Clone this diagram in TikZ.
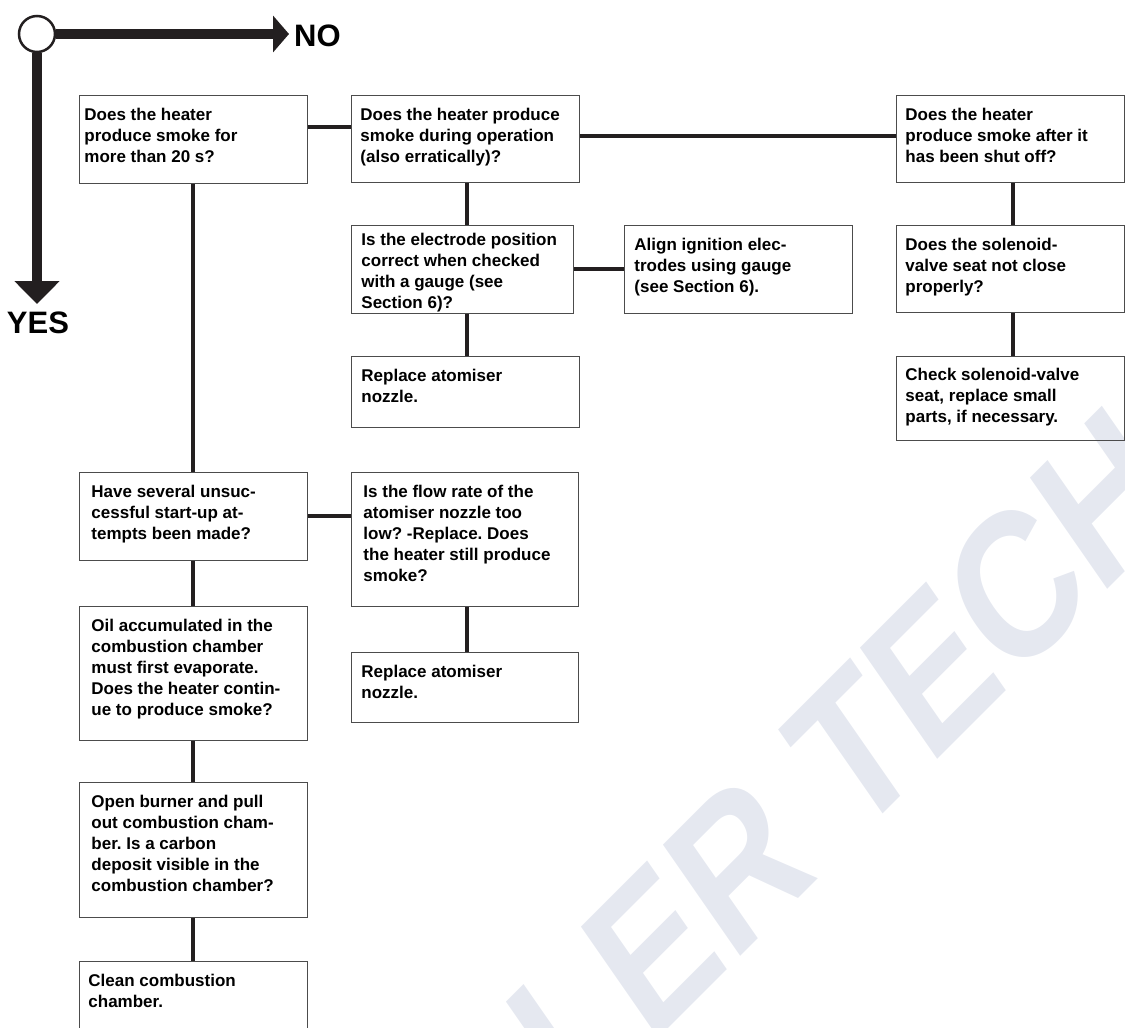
\documentclass[tikz,border=0pt]{standalone}
\usepackage{fontspec}
\setmainfont{Liberation Sans}
\usetikzlibrary{arrows.meta}
\definecolor{ink}{RGB}{35,31,32}
\definecolor{wmblue}{RGB}{229,232,240}
\frenchspacing
% width, height, left pad, top pad, text
\newcommand{\flowtext}[5]{\parbox[c][#2pt][t]{#1pt}{\vskip#4pt\leftskip=#3pt\relax\rightskip=0pt plus 1fil\relax\strut#5}}
\begin{document}
\begin{tikzpicture}[x=1pt,y=-1pt,
  qbox/.style={draw=black!70, line width=.9pt, inner sep=0pt, anchor=north west,
    font=\fontsize{17}{21}\selectfont\bfseries},
  link/.style={draw=ink, line width=4pt},
  bigarrow/.style={draw=ink, line width=10pt},
  bigtext/.style={font=\fontsize{31}{31}\selectfont\bfseries, inner sep=0pt},
  wmark/.style={text=wmblue, font=\fontsize{173}{173}\selectfont\bfseries, inner sep=0pt,
    rotate=45, xslant=.18, yscale=1.12}]
  \useasboundingbox (0,0) rectangle (1125,1028);
  \clip (0,0) rectangle (1125,1028);
  \node[wmark, anchor=base west] (wm) at (501,1196) {LLER TECH};
  % yes / no key
  \node[circle, draw=ink, line width=2.5pt, fill=white, minimum size=36pt, inner sep=0pt] (start) at (37,34) {};
  \coordinate (notip) at (289,34);
  \coordinate (yestip) at (37,304);
  \draw[bigarrow, -{Triangle[length=16pt,width=36pt]}] (start.east) -- (notip);
  \draw[bigarrow, -{Triangle[length=23pt,width=44pt]}] (start.south) -- (yestip);
  \node[bigtext, anchor=west] (no) at (294,36) {NO};
  \node[bigtext, anchor=north] (yes) at (38,312) {YES};
  % boxes
  \node[qbox] (smoke) at (79,95) {\flowtext{228}{88}{5}{10}{Does the heater\\produce smoke for\\more than 20 s?}};
  \node[qbox] (during) at (351,95) {\flowtext{228}{87}{9}{10}{Does the heater produce\\smoke during operation\\(also erratically)?}};
  \node[qbox] (after) at (896,95) {\flowtext{227.5}{87}{9}{10}{Does the heater\\produce smoke after it\\has been shut off?}};
  \node[qbox] (seat) at (896,225) {\flowtext{227.5}{87}{9}{10}{Does the solenoid-\\valve seat not close\\properly?}};
  \node[qbox] (checkseat) at (896,356) {\flowtext{227.5}{84}{9}{9}{Check solenoid-valve\\seat, replace small\\parts, if necessary.}};
  \node[qbox] (electrode) at (351,225) {\flowtext{222}{88}{10}{5}{Is the electrode position\\correct when checked\\with a gauge (see\\Section 6)?}};
  \node[qbox] (align) at (624,225) {\flowtext{228}{88}{10}{10}{Align ignition elec-\\trodes using gauge\\(see Section 6).}};
  \node[qbox] (nozzle) at (351,356) {\flowtext{228}{71}{10}{10}{Replace atomiser\\nozzle.}};
  \node[qbox] (attempts) at (79,472) {\flowtext{228}{88}{12}{10}{Have several unsuc-\\cessful start-up at-\\tempts been made?}};
  \node[qbox] (flowrate) at (351,472) {\flowtext{227}{134}{12}{10}{Is the flow rate of the\\atomiser nozzle too\\low? -Replace. Does\\the heater still produce\\smoke?}};
  \node[qbox] (nozzle2) at (351,652) {\flowtext{227}{70}{10}{10}{Replace atomiser\\nozzle.}};
  \node[qbox] (oil) at (79,606) {\flowtext{228}{134}{12}{10}{Oil accumulated in the\\combustion chamber\\must first evaporate.\\Does the heater contin-\\ue to produce smoke?}};
  \node[qbox] (burner) at (79,782) {\flowtext{228}{135}{12}{10}{Open burner and pull\\out combustion cham-\\ber. Is a carbon\\deposit visible in the\\combustion chamber?}};
  \node[qbox] (clean) at (79,961) {\flowtext{228}{90}{9}{10}{Clean combustion\\chamber.}};
  % links
  \draw[link] ([yshift=12pt]smoke.east) -- ([yshift=12pt]smoke.east -| during.west);
  \draw[link] ([yshift=3pt]during.east) -- ([yshift=3pt]during.east -| after.west);
  \draw[link] ([xshift=3pt]after.south) -- ([xshift=3pt]after.south |- seat.north);
  \draw[link] ([xshift=3pt]seat.south) -- ([xshift=3pt]seat.south |- checkseat.north);
  \draw[link] ([xshift=2pt]during.south) -- ([xshift=2pt]during.south |- electrode.north);
  \draw[link] ([xshift=5pt]electrode.south) -- ([xshift=5pt]electrode.south |- nozzle.north);
  \draw[link] (electrode.east) -- (electrode.east -| align.west);
  \draw[link] (smoke.south) -- (attempts.north);
  \draw[link] (attempts.east) -- (attempts.east -| flowrate.west);
  \draw[link] ([xshift=2pt]flowrate.south) -- ([xshift=2pt]flowrate.south |- nozzle2.north);
  \draw[link] (attempts.south) -- (oil.north);
  \draw[link] (oil.south) -- (burner.north);
  \draw[link] (burner.south) -- (clean.north);
\end{tikzpicture}
\end{document}
